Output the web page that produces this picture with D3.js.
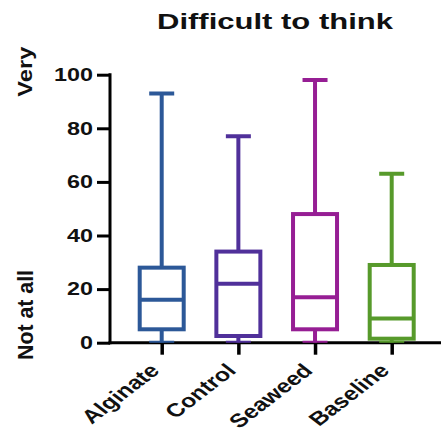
<!DOCTYPE html>
<html>
<head>
<meta charset="utf-8">
<script src="https://cdn.jsdelivr.net/npm/d3@7"></script>
<style>
  html, body { margin: 0; padding: 0; background: #fff; }
  svg { display: block; font-family: Arial, "Liberation Sans", sans-serif; }
</style>
</head>
<body>
<svg id="chart" width="441" height="443"></svg>
<script>
// Box-plot summaries per group (min, Q1, median, Q3, max)
const categories = ["Alginate", "Control", "Seaweed", "Baseline"];
const mins    = [0, 0, 0, 0];
const q1s     = [5, 2.5, 5, 1.5];
const medians = [16, 22, 17, 9];
const q3s     = [28, 34, 48, 29];
const maxs    = [93, 77, 98, 63];
const colors  = ["#2C5898", "#50309A", "#961E94", "#579A2B"];
const yTicks  = [0, 20, 40, 60, 80, 100];

const title = "Difficult to think";
const yLabelTop = "Very";
const yLabelBottom = "Not at all";

const svg = d3.select("#chart");

const x0 = 110, x1 = 441;
const y = d3.scaleLinear().domain([0, 100]).range([342.7, 74.7]);
const x = d3.scalePoint().domain(categories).range([161.7, 391.7]);

const boxW = 44, capW = 25, lw = 4;

// clip marks to the plotting area so the bottom caps sit on the axis line
svg.append("clipPath").attr("id", "plotclip")
  .append("rect").attr("x", x0).attr("y", 0).attr("width", x1 - x0).attr("height", y(0));

// axes
const yAxis = svg.append("g").attr("transform", `translate(${x0},0)`)
  .call(d3.axisLeft(y).tickValues(yTicks).tickSize(13).tickSizeOuter(0).tickPadding(4));
yAxis.select(".domain").attr("stroke", "#000").attr("stroke-width", 3).attr("d", `M0,${y(100) - 1.5}V${y(0) + 1.5}`);
yAxis.selectAll(".tick line").attr("stroke", "#000").attr("stroke-width", 3);
yAxis.selectAll(".tick text")
  .attr("fill", "#111").attr("font-size", 18).attr("font-weight", "bold")
  .attr("font-family", "Arial, 'Liberation Sans', sans-serif")
  .each(function () {
    const t = d3.select(this);
    const n = t.text().length;
    t.attr("textLength", n * 13).attr("lengthAdjust", "spacingAndGlyphs");
  });

const xAxis = svg.append("g").attr("transform", `translate(0,${y(0)})`)
  .call(d3.axisBottom(x).tickSize(12).tickSizeOuter(0).tickFormat(""));
xAxis.select(".domain").attr("stroke", "#000").attr("stroke-width", 3).attr("d", `M${x0 - 1.5},0H${x1}`);
xAxis.selectAll(".tick line").attr("stroke", "#000").attr("stroke-width", 3.5);

// boxes and whiskers
const plot = svg.append("g").attr("clip-path", "url(#plotclip)");
categories.forEach((c, i) => {
  const cx = x(c);
  const g = plot.append("g").attr("stroke", colors[i]).attr("stroke-width", lw).attr("fill", "none");
  // whiskers
  g.append("line").attr("x1", cx).attr("x2", cx).attr("y1", y(maxs[i])).attr("y2", y(q3s[i]));
  g.append("line").attr("x1", cx).attr("x2", cx).attr("y1", y(q1s[i])).attr("y2", y(mins[i]));
  // caps
  g.append("line").attr("x1", cx - capW / 2).attr("x2", cx + capW / 2).attr("y1", y(maxs[i])).attr("y2", y(maxs[i]));
  g.append("line").attr("x1", cx - capW / 2).attr("x2", cx + capW / 2).attr("y1", y(mins[i])).attr("y2", y(mins[i]));
  // box
  g.append("rect").attr("x", cx - boxW / 2).attr("width", boxW)
    .attr("y", y(q3s[i])).attr("height", y(q1s[i]) - y(q3s[i]));
  // median
  g.append("line").attr("x1", cx - boxW / 2).attr("x2", cx + boxW / 2)
    .attr("y1", y(medians[i])).attr("y2", y(medians[i]));
});

// category labels, slanted
categories.forEach(c => {
  const lbl = svg.append("g").attr("transform", `translate(${x(c) - 1},${y(0) + 29}) scale(1.3,1) rotate(-45)`);
  lbl.append("text").text(c)
    .attr("text-anchor", "end").attr("font-size", 19).attr("font-weight", "bold").attr("fill", "#111");
});

// title
svg.append("text").text(title)
  .attr("x", 275).attr("y", 28.5).attr("text-anchor", "middle")
  .attr("font-size", 22).attr("font-weight", "bold").attr("fill", "#111")
  .attr("textLength", 236).attr("lengthAdjust", "spacingAndGlyphs");

// y-axis end labels
svg.append("text").text(yLabelTop)
  .attr("transform", `translate(31.5,71.7) rotate(-90)`)
  .attr("text-anchor", "middle").attr("font-size", 21).attr("font-weight", "bold").attr("fill", "#111")
  .attr("textLength", 50).attr("lengthAdjust", "spacingAndGlyphs");
svg.append("text").text(yLabelBottom)
  .attr("transform", `translate(32.5,315) rotate(-90)`)
  .attr("text-anchor", "middle").attr("font-size", 21.5).attr("font-weight", "bold").attr("fill", "#111")
  .attr("textLength", 90).attr("lengthAdjust", "spacingAndGlyphs");
</script>
</body>
</html>
